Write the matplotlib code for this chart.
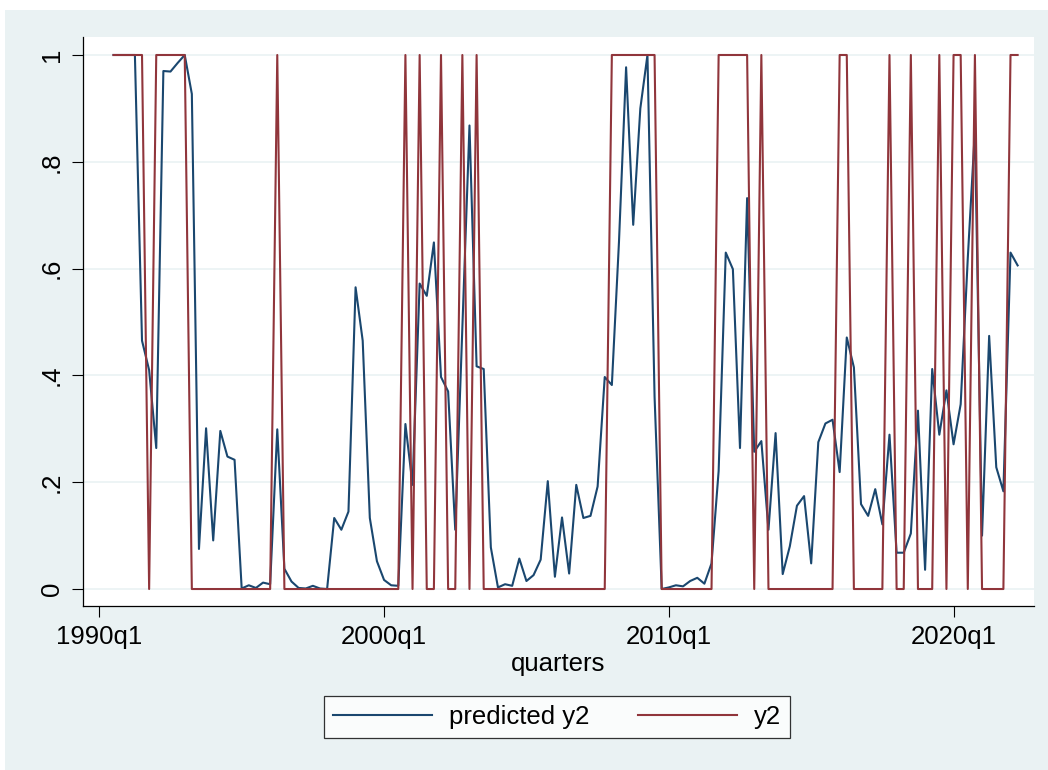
import matplotlib
matplotlib.use("Agg")
import matplotlib.pyplot as plt
import matplotlib.patches as patches
import pandas as pd

plt.rcParams['font.family'] = ['Liberation Sans', 'DejaVu Sans']

# quarterly sample, 1990q3 .. 2022q2
start_q = "1990Q3"
end_q = "2022Q2"

predicted_y2 = [
    1.0, 1.0, 1.0, 1.0, 0.465, 0.410, 0.264, 0.970, 0.969, 0.985,
    1.0, 0.927, 0.075, 0.301, 0.091, 0.296, 0.248, 0.242, 0.001, 0.007,
    0.002, 0.012, 0.009, 0.299, 0.038, 0.014, 0.002, 0.001, 0.006, 0.001,
    0.0, 0.133, 0.111, 0.145, 0.565, 0.465, 0.133, 0.052, 0.017, 0.007,
    0.006, 0.309, 0.195, 0.572, 0.549, 0.649, 0.397, 0.370, 0.111, 0.49,
    0.868, 0.417, 0.412, 0.078, 0.003, 0.009, 0.006, 0.057, 0.015, 0.026,
    0.055, 0.202, 0.023, 0.134, 0.029, 0.195, 0.133, 0.137, 0.192, 0.397,
    0.382, 0.65, 0.977, 0.682, 0.900, 1.0, 0.36, 0.0, 0.003, 0.007,
    0.005, 0.015, 0.021, 0.010, 0.048, 0.221, 0.630, 0.599, 0.264, 0.732,
    0.257, 0.277, 0.111, 0.292, 0.028, 0.080, 0.156, 0.174, 0.048, 0.275,
    0.310, 0.317, 0.219, 0.471, 0.415, 0.159, 0.137, 0.187, 0.121, 0.289,
    0.068, 0.068, 0.104, 0.334, 0.036, 0.412, 0.289, 0.372, 0.271, 0.346,
    0.62, 0.86, 0.100, 0.474, 0.228, 0.183, 0.630, 0.606,
]

y2 = [
    1, 1, 1, 1, 1, 0, 1, 1, 1, 1,
    1, 0, 0, 0, 0, 0, 0, 0, 0, 0,
    0, 0, 0, 1, 0, 0, 0, 0, 0, 0,
    0, 0, 0, 0, 0, 0, 0, 0, 0, 0,
    0, 1, 0, 1, 0, 0, 1, 0, 0, 1,
    0, 1, 0, 0, 0, 0, 0, 0, 0, 0,
    0, 0, 0, 0, 0, 0, 0, 0, 0, 0,
    1, 1, 1, 1, 1, 1, 1, 0, 0, 0,
    0, 0, 0, 0, 0, 1, 1, 1, 1, 1,
    0, 1, 0, 0, 0, 0, 0, 0, 0, 0,
    0, 0, 1, 1, 0, 0, 0, 0, 0, 1,
    0, 0, 1, 0, 0, 0, 1, 0, 1, 1,
    0, 1, 0, 0, 0, 0, 1, 1,
]

tick_labels = ["1990q1", "2000q1", "2010q1", "2020q1"]
y_ticks = [0, 0.2, 0.4, 0.6, 0.8, 1.0]
y_tick_labels = ["0", ".2", ".4", ".6", ".8", "1"]

# quarters counted from 1990q1, like a Stata %tq variable
base = pd.Period("1990Q1", freq="Q")
periods = pd.period_range(start_q, end_q, freq="Q")
quarters = [(p - base).n for p in periods]
tick_pos = [(pd.Period(t.replace("q", "Q"), freq="Q") - base).n for t in tick_labels]

W, H = 1048, 770
fig = plt.figure(figsize=(W / 100, H / 100), dpi=100)
fig.patch.set_facecolor("white")
fig.patches.append(patches.Rectangle((5 / W, 0), 1 - 5 / W, 1 - 10 / H,
                                     transform=fig.transFigure,
                                     facecolor="#EAF2F3", edgecolor="none",
                                     zorder=-10))

ax = fig.add_axes([83 / W, 1 - 606 / H, (1034 - 83) / W, (606 - 37) / H])
ax.set_facecolor("white")

navy = "#1A476F"
maroon = "#90353B"

ax.plot(quarters, predicted_y2, color=navy, lw=1.5, label="predicted y2", zorder=3)
ax.plot(quarters, y2, color=maroon, lw=1.5, label="y2", zorder=4)

ax.set_xlim(-2.29, 131.3)
ax.set_ylim(-0.0318, 1.0337)

ax.set_yticks(y_ticks)
ax.set_yticklabels(y_tick_labels, rotation=90, va="center")
ax.set_xticks(tick_pos)
ax.set_xticklabels(tick_labels)

for v in y_ticks:
    ax.axhline(v, color="#EAF2F3", lw=1.2, zorder=1)

for s in ["top", "right"]:
    ax.spines[s].set_visible(False)
for s in ["left", "bottom"]:
    ax.spines[s].set_linewidth(0.9)
    ax.spines[s].set_color("black")

ax.tick_params(axis="both", length=8, width=0.8, labelsize=18.5, color="black")
ax.tick_params(axis="y", pad=6)
ax.tick_params(axis="x", pad=6)

ax.set_xlabel("quarters", fontsize=18.5, labelpad=2)

leg = ax.legend(loc="center", bbox_to_anchor=(557 / W, 1 - 717 / H),
                bbox_transform=fig.transFigure, ncol=2, frameon=True,
                fancybox=False, edgecolor="black", fontsize=18.5,
                handlelength=3.85, handletextpad=0.65, columnspacing=1.9,
                borderpad=0.35)
leg.get_frame().set_linewidth(0.9)

fig.savefig("out.png", dpi=100)
